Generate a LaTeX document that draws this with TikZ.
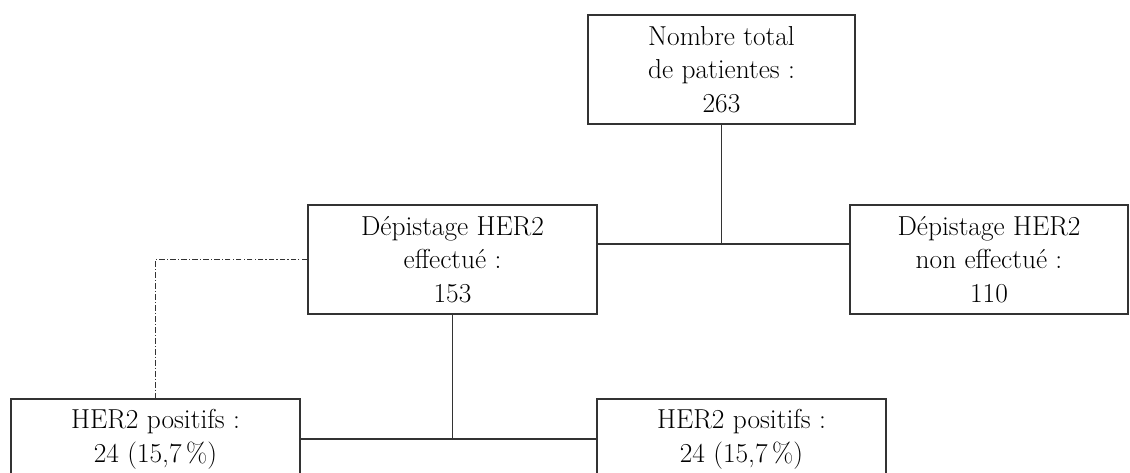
\documentclass[tikz,border=0pt]{standalone}
\usepackage{tikz}

\begin{document}
\begin{tikzpicture}[
  box/.style={draw=black!80, line width=1.1pt, align=center, inner sep=0pt, font=\fontsize{19.5}{24}\selectfont},
  link/.style={draw=black!80, line width=1.1pt},
  linkdash/.style={link, dash pattern=on 4pt off 1.5pt on 0.8pt off 1.5pt}
]
\clip (0, 0) rectangle (28.25, 11.8);

\node[box, minimum width=6.675cm, minimum height=2.725cm] (total) at (18.0375, 10.0625) {Nombre total\\de patientes :\\263};

\node[box, minimum width=7.225cm, minimum height=2.725cm] (effectue) at (11.3125, 5.3125) {Dépistage HER2\\effectué :\\153};
\node[box, minimum width=6.95cm, minimum height=2.725cm] (noneffectue) at (24.725, 5.3125) {Dépistage HER2\\non effectué :\\110};

\node[box, minimum width=7.225cm, minimum height=2cm] (positifs a) at (3.8875, 0.825) {HER2 positifs :\\24 (15,7\,\%)};
\node[box, minimum width=7.225cm, minimum height=2cm] (positifs b) at (18.5375, 0.825) {HER2 positifs :\\24 (15,7\,\%)};

\coordinate (split) at (18.0375, 5.7);

\draw[link] (total.south) -- (split);
\draw[link] (effectue.east |- split) -- (noneffectue.west |- split);

\draw[link] (effectue.south) -- (effectue.south |- positifs a.east);
\draw[link] (positifs a.east) -- (positifs b.west);

\draw[linkdash] (effectue.west) -| (positifs a.north);
\end{tikzpicture}
\end{document}
